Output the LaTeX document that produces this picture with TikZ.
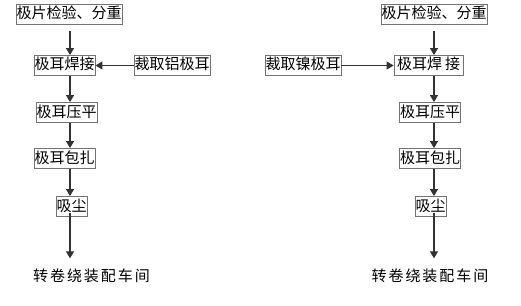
\documentclass[tikz,border=0pt]{standalone}
\usepackage{fontspec}
\setmainfont{Noto Sans CJK SC}
\newfontfamily\spacedcjk[LetterSpace=13]{Noto Sans CJK SC}
\usetikzlibrary{arrows.meta}
\begin{document}
\begin{tikzpicture}[x=1pt,y=-1pt,
  box/.style={draw=black!55,line width=0.8pt,inner xsep=0.5pt,inner ysep=2.5pt,
    text height=12pt,text depth=3pt,font=\fontsize{15}{15}\selectfont},
  dest/.style={inner sep=0pt,font=\spacedcjk\fontsize{15}{15}\selectfont},
  arr/.style={draw=black!80,line width=1.3pt,-{Triangle[length=7pt,width=8pt]}}]
\useasboundingbox (0,0) rectangle (521,305);

% left line: aluminium tab
\coordinate (lAx) at (70,0);
\node[box] (lCheck) at (69,14) {极片检验、分重};
\node[box] (lWeld) at (64.5,65.5) {极耳焊接};
\node[box] (lCut) at (172,65.5) {裁取铝极耳};
\node[box] (lFlat) at (66.5,112.5) {极耳压平};
\node[box] (lWrap) at (64.5,158.5) {极耳包扎};
\node[box] (lDust) at (71.5,206.5) {吸尘};
\node[dest] (lOut) at (91.5,275.5) {转卷绕装配车间};

\draw[arr,shorten <=7pt] (lCheck.south -| lAx) -- (lWeld.north -| lAx);
\draw[arr] (lCut) -- (lWeld);
\draw[arr] (lWeld.south -| lAx) -- (lFlat.north -| lAx);
\draw[arr] (lFlat.south -| lAx) -- (lWrap.north -| lAx);
\draw[arr] (lWrap.south -| lAx) -- (lDust.north -| lAx);
\draw[arr,shorten <=-4pt,shorten >=10pt] (lDust.south -| lAx) -- (lOut.north -| lAx);

% right line: nickel tab
\coordinate (rAx) at (434,0);
\node[box] (rCheck) at (434,14) {极片检验、分重};
\node[box,minimum width=69pt] (rWeld) at (428.5,65.5) {极耳焊\hspace{3pt}接};
\node[box] (rCut) at (303,65.5) {裁取镍极耳};
\node[box] (rFlat) at (430,112.5) {极耳压平};
\node[box] (rWrap) at (430,158.5) {极耳包扎};
\node[box] (rDust) at (430.5,206.5) {吸尘};
\node[dest] (rOut) at (430,275.5) {转卷绕装配车间};

\draw[arr,shorten <=7pt] (rCheck.south -| rAx) -- (rWeld.north -| rAx);
\draw[arr] (rCut) -- (rWeld);
\draw[arr] (rWeld.south -| rAx) -- (rFlat.north -| rAx);
\draw[arr] (rFlat.south -| rAx) -- (rWrap.north -| rAx);
\draw[arr] (rWrap.south -| rAx) -- (rDust.north -| rAx);
\draw[arr,shorten <=-4pt,shorten >=10pt] (rDust.south -| rAx) -- (rOut.north -| rAx);
\end{tikzpicture}
\end{document}
